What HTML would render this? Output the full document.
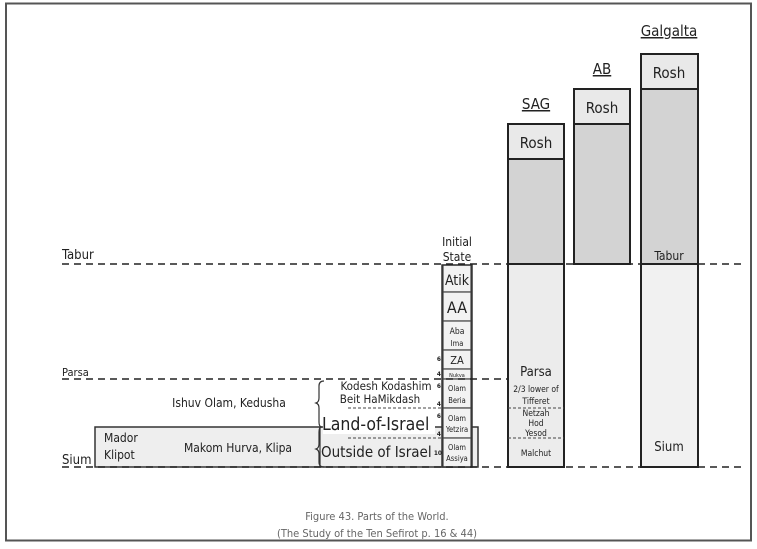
<!DOCTYPE html>
<html><head><meta charset="utf-8"><style>
body{margin:0;background:#fff}
svg{display:block}
text{font-family:"DejaVu Sans Condensed","DejaVu Sans","Liberation Sans",sans-serif;fill:#222}
</style></head><body>
<svg width="757" height="549" viewBox="0 0 757 549" xmlns="http://www.w3.org/2000/svg">
<rect x="6" y="3.5" width="745" height="537" fill="#fff" stroke="#555" stroke-width="2"/>
<rect x="641" y="54" width="57" height="35" fill="#e9e9e9" stroke="#222" stroke-width="2"/>
<rect x="641" y="89" width="57" height="175" fill="#d3d3d3" stroke="#222" stroke-width="2"/>
<rect x="641" y="264" width="57" height="203" fill="#f1f1f1" stroke="#222" stroke-width="2"/>
<rect x="574" y="89" width="56" height="35" fill="#e9e9e9" stroke="#222" stroke-width="2"/>
<rect x="574" y="124" width="56" height="140" fill="#d3d3d3" stroke="#222" stroke-width="2"/>
<rect x="508" y="124" width="56" height="35" fill="#e9e9e9" stroke="#222" stroke-width="2"/>
<rect x="508" y="159" width="56" height="105" fill="#d3d3d3" stroke="#222" stroke-width="2"/>
<rect x="508" y="264" width="56" height="203" fill="#ececec" stroke="#222" stroke-width="2"/>
<line x1="508" y1="408" x2="564" y2="408" stroke="#444" stroke-dasharray="3,2"/>
<line x1="508" y1="438" x2="564" y2="438" stroke="#444" stroke-dasharray="3,2"/>
<rect x="95" y="427" width="383" height="40" fill="#eeeeee" stroke="#333" stroke-width="1.5"/>
<line x1="320" y1="427" x2="320" y2="467" stroke="#333" stroke-width="1.2"/>
<g fill="#f2f2f2" stroke="#444" stroke-width="1.2">
<rect x="443" y="265" width="28" height="27"/>
<rect x="443" y="292" width="28" height="29"/>
<rect x="443" y="321" width="28" height="29"/>
<rect x="443" y="350" width="28" height="19"/>
<rect x="443" y="369" width="28" height="10"/>
<rect x="443" y="379" width="28" height="29"/>
<rect x="443" y="408" width="28" height="30"/>
<rect x="443" y="438" width="28" height="29"/>
</g>
<rect x="442" y="265" width="30" height="202" fill="none" stroke="#333" stroke-width="1.5"/>
<g stroke="#222" stroke-width="1.5" stroke-dasharray="7,5">
<line x1="62" y1="264" x2="745" y2="264"/>
<line x1="62" y1="379" x2="508" y2="379"/>
<line x1="62" y1="467" x2="745" y2="467"/>
</g>
<g stroke="#444" stroke-width="1" stroke-dasharray="3,2">
<line x1="348" y1="408" x2="443" y2="408"/>
<line x1="348" y1="438" x2="443" y2="438"/>
</g>
<path d="M324 381 Q319 381 319 386 L319 398 Q319 402 316 403 Q319 404 319 408 L319 422 Q319 427 322 427" fill="none" stroke="#333" stroke-width="1.2"/>
<path d="M322 427 Q319 427 319 432 L319 444 Q319 448 316 449 Q319 450 319 454 L319 462 Q319 467 324 467" fill="none" stroke="#333" stroke-width="1.2"/>
<rect x="323" y="413" width="112" height="21" fill="#fff"/>
<g text-anchor="middle">
<text x="669" y="36" font-size="15" text-decoration="underline">Galgalta</text>
<text x="602" y="74" font-size="15" text-decoration="underline">AB</text>
<text x="536" y="109" font-size="15" text-decoration="underline">SAG</text>
<text x="669" y="78" font-size="15">Rosh</text>
<text x="602" y="113" font-size="15">Rosh</text>
<text x="536" y="148" font-size="15">Rosh</text>
<text x="669" y="260" font-size="12">Tabur</text>
<text x="669" y="451" font-size="13">Sium</text>
<text x="536" y="376" font-size="13">Parsa</text>
<text x="536" y="392" font-size="8.5">2/3 lower of</text>
<text x="536" y="404" font-size="8.5">Tifferet</text>
<text x="536" y="416" font-size="8.5">Netzah</text>
<text x="536" y="426" font-size="8.5">Hod</text>
<text x="536" y="436" font-size="8.5">Yesod</text>
<text x="536" y="456" font-size="8.5">Malchut</text>
<text x="457" y="246" font-size="12">Initial</text>
<text x="457" y="261" font-size="12">State</text>
<text x="457" y="285" font-size="14">Atik</text>
<text x="457" y="313" font-size="16">AA</text>
<text x="457" y="334" font-size="8.5">Aba</text>
<text x="457" y="346" font-size="7.5">Ima</text>
<text x="457" y="364" font-size="11">ZA</text>
<text x="457" y="377" font-size="5.5">Nukva</text>
<text x="457" y="391" font-size="7.5">Olam</text>
<text x="457" y="403" font-size="7.5">Beria</text>
<text x="457" y="421" font-size="7.5">Olam</text>
<text x="457" y="432" font-size="7.5">Yetzira</text>
<text x="457" y="450" font-size="7.5">Olam</text>
<text x="457" y="461" font-size="7.5">Assiya</text>
<text x="386" y="390" font-size="11.5">Kodesh Kodashim</text>
<text x="380" y="403" font-size="11.5">Beit HaMikdash</text>
<text x="229" y="407" font-size="12" font-family="Liberation Sans">Ishuv Olam, Kedusha</text>
<text x="238" y="452" font-size="12" font-family="Liberation Sans">Makom Hurva, Klipa</text>
<text x="377" y="520" font-size="11" style="fill:#666" font-family="Liberation Sans">Figure 43. Parts of the World.</text>
<text x="377" y="537" font-size="11" style="fill:#666" font-family="Liberation Sans">(The Study of the Ten Sefirot p. 16 &amp; 44)</text>
</g>
<text x="322" y="430" font-size="17.5">Land-of-Israel</text>
<text x="321" y="457" font-size="15">Outside of Israel</text>
<text x="104" y="442" font-size="12">Mador</text>
<text x="104" y="459" font-size="12">Klipot</text>
<text x="62" y="464" font-size="13">Sium</text>
<text x="62" y="259" font-size="13">Tabur</text>
<text x="62" y="376" font-size="11">Parsa</text>
<g font-size="6.5" font-weight="bold" text-anchor="end">
<text x="441" y="361">6</text><text x="441" y="376">4</text>
<text x="441" y="388">6</text><text x="441" y="406">4</text>
<text x="441" y="418">6</text><text x="441" y="436">4</text>
<text x="442" y="455">10</text>
</g>
</svg>
</body></html>
